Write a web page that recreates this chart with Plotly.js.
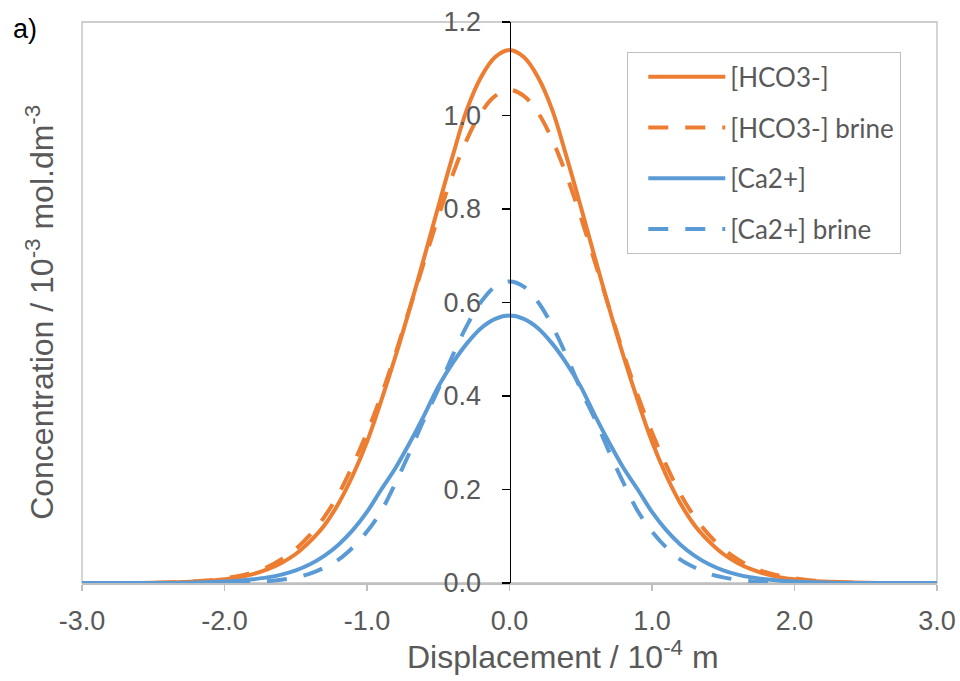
<!DOCTYPE html>
<html>
<head>
<meta charset="utf-8">
<script src="https://cdn.plot.ly/plotly-3.0.1.min.js"></script>
<style>
  html, body { margin: 0; padding: 0; background: #ffffff; }
  #chart { width: 960px; height: 681px; }
</style>
</head>
<body>
<div id="chart"></div>
<script>
// Displacement / 10^-4 m
const displacement = [-3.0,-2.6,-2.4,-2.2,-2.1,-2.0,-1.9,-1.8,-1.7,-1.6,-1.5,-1.4,-1.3,-1.2,-1.1,-1.0,-0.9,-0.8,-0.7,-0.6,-0.5,-0.4,-0.3,-0.2,-0.1,
  0.0,0.1,0.2,0.3,0.4,0.5,0.6,0.7,0.8,0.9,1.0,1.1,1.2,1.3,1.4,1.5,1.6,1.7,1.8,1.9,2.0,2.1,2.2,2.4,2.6,3.0];

// Concentration / 10^-3 mol.dm^-3
const hco3 = [0,0,0.001,0.003,0.005,0.008,0.012,0.019,0.029,0.043,0.062,0.089,0.123,0.170,0.230,0.302,0.390,0.485,0.587,0.695,0.805,0.912,1.012,1.082,1.125,
  1.140,1.125,1.082,1.012,0.912,0.805,0.695,0.587,0.485,0.390,0.302,0.230,0.170,0.123,0.089,0.062,0.043,0.029,0.019,0.012,0.008,0.005,0.003,0.001,0,0];

const hco3Brine = [0,0,0.001,0.004,0.006,0.010,0.015,0.023,0.034,0.051,0.073,0.103,0.141,0.190,0.252,0.322,0.401,0.491,0.588,0.686,0.783,0.872,0.948,1.006,1.042,
  1.055,1.042,1.006,0.948,0.872,0.783,0.686,0.588,0.491,0.401,0.322,0.252,0.190,0.141,0.103,0.073,0.051,0.034,0.023,0.015,0.010,0.006,0.004,0.001,0,0];

const ca = [0,0,0,0.001,0.002,0.003,0.005,0.008,0.012,0.018,0.027,0.040,0.058,0.082,0.113,0.152,0.200,0.246,0.300,0.358,0.420,0.470,0.512,0.545,0.565,
  0.572,0.565,0.545,0.512,0.470,0.420,0.358,0.300,0.246,0.200,0.152,0.113,0.082,0.058,0.040,0.027,0.018,0.012,0.008,0.005,0.003,0.002,0.001,0,0,0];

const caBrine = [0,0,0,0,0,0.001,0.001,0.002,0.004,0.007,0.012,0.020,0.033,0.050,0.076,0.110,0.154,0.214,0.280,0.350,0.414,0.486,0.550,0.601,0.634,
  0.645,0.634,0.601,0.550,0.486,0.414,0.350,0.280,0.214,0.154,0.110,0.076,0.050,0.033,0.020,0.012,0.007,0.004,0.002,0.001,0.001,0,0,0,0,0];

const seriesNames = ['[HCO3-]', '[HCO3-] brine', '[Ca2+]', '[Ca2+] brine'];
const xTickVals = [-3, -2, -1, 0, 1, 2, 3];
const xTickText = ['-3.0', '-2.0', '-1.0', '0.0', '1.0', '2.0', '3.0'];
const yTickVals = [0, 0.2, 0.4, 0.6, 0.8, 1.0, 1.2];
const yTickText = ['0.0', '0.2', '0.4', '0.6', '0.8', '1.0', '1.2'];

const ORANGE = '#ED7D31';
const BLUE = '#5B9BD5';
const DASH = '20px,17px';
const LW = 4;

function trace(y, name, color, dash, grp) {
  return {
    x: displacement, y: y, name: name, type: 'scatter', mode: 'lines',
    line: {color: color, width: LW, dash: dash, shape: 'spline', smoothing: 1},
    legendgroup: grp, hoverinfo: 'skip'
  };
}

const data = [
  trace(hco3, seriesNames[0], ORANGE, 'solid', 'g1'),
  trace(hco3Brine, seriesNames[1], ORANGE, DASH, 'g2'),
  trace(ca, seriesNames[2], BLUE, 'solid', 'g3'),
  trace(caBrine, seriesNames[3], BLUE, DASH, 'g4')
];

const AX_FONT = 'Arial, "Liberation Sans", sans-serif';
const GREY_TXT = '#595959';

const layout = {
  width: 960, height: 681,
  margin: {l: 82, r: 23, t: 22, b: 98, pad: 0},
  paper_bgcolor: '#ffffff', plot_bgcolor: '#ffffff',
  showlegend: true,
  xaxis: {
    range: [-3, 3], tickvals: xTickVals, ticktext: xTickText,
    showgrid: false, zeroline: false,
    showline: true, linecolor: '#BFBFBF', linewidth: 1.5,
    ticks: 'outside', ticklen: 6, tickcolor: '#BFBFBF', tickwidth: 1.5,
    ticklabelstandoff: 7,
    tickfont: {family: AX_FONT, size: 27, color: GREY_TXT},
    fixedrange: true
  },
  yaxis: {
    range: [0, 1.2], tickvals: yTickVals, ticktext: yTickText,
    anchor: 'free', position: 0.5,
    showgrid: false, zeroline: false,
    showline: true, linecolor: '#000000', linewidth: 1.5,
    ticks: 'outside', ticklen: 8, tickcolor: '#000000', tickwidth: 1.5,
    ticklabelstandoff: 15,
    tickfont: {family: AX_FONT, size: 27, color: GREY_TXT},
    fixedrange: true
  },
  legend: {
    x: 0.6374, y: 0.9465, xanchor: 'left', yanchor: 'top',
    bgcolor: '#ffffff', bordercolor: '#BFBFBF', borderwidth: 1.3,
    font: {family: 'Lato, Carlito, sans-serif', size: 26, color: GREY_TXT},
    itemwidth: 77, tracegroupgap: 14, traceorder: 'grouped',
    indentation: 15
  },
  shapes: [{
    type: 'rect', xref: 'paper', yref: 'paper', x0: 0, x1: 1, y0: 0, y1: 1,
    line: {color: '#BFBFBF', width: 1.3}, layer: 'below'
  }],
  annotations: [
    {
      text: 'Concentration / 10<sup>-3</sup> mol.dm<sup>-3</sup>',
      xref: 'paper', yref: 'paper', x: -0.05, y: 0.482,
      xanchor: 'center', yanchor: 'middle', textangle: -90, showarrow: false,
      font: {family: AX_FONT, size: 32, color: GREY_TXT}
    },
    {
      text: 'Displacement / 10<sup>-4</sup> m',
      xref: 'paper', yref: 'paper', x: 0.5626, y: -0.128,
      xanchor: 'center', yanchor: 'middle', showarrow: false,
      font: {family: AX_FONT, size: 32, color: GREY_TXT}
    },
    {
      text: 'a)',
      xref: 'paper', yref: 'paper', x: -0.0667, y: 0.9875,
      xanchor: 'center', yanchor: 'middle', showarrow: false,
      font: {family: AX_FONT, size: 27, color: '#000000'}
    }
  ]
};

Plotly.newPlot('chart', data, layout, {displayModeBar: false, staticPlot: true});
</script>
</body>
</html>
